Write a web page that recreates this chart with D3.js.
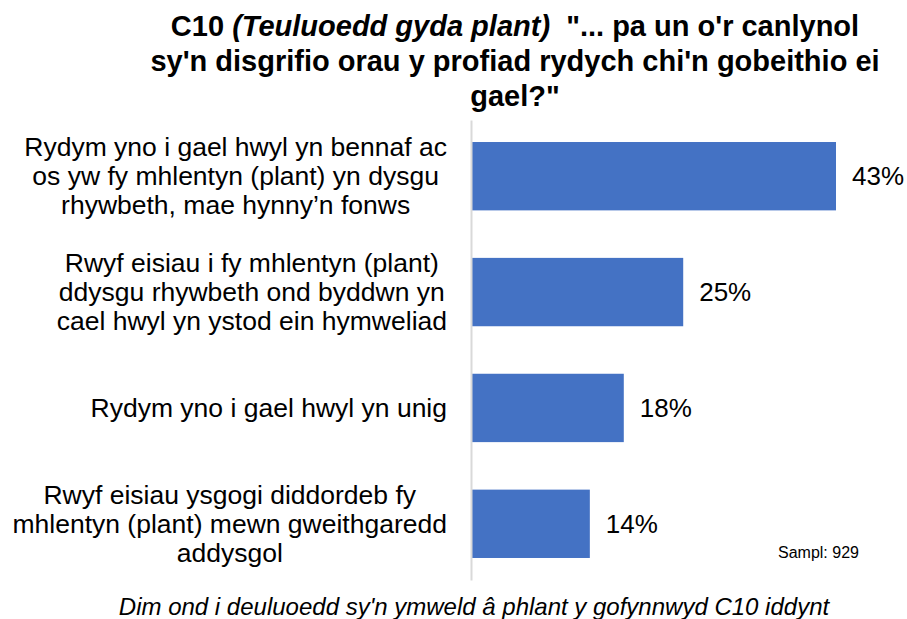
<!DOCTYPE html>
<html>
<head>
<meta charset="utf-8">
<script src="https://cdn.jsdelivr.net/npm/d3@7"></script>
<style>
  body { margin: 0; background: #fff; }
  svg { display: block; font-family: "Liberation Sans", Arial, sans-serif; }
</style>
</head>
<body>
<svg id="chart" width="907" height="619"></svg>
<script>
const categories = [
  ['Rydym yno i gael hwyl yn bennaf ac', 'os yw fy mhlentyn (plant) yn dysgu', 'rhywbeth, mae hynny\u2019n fonws'],
  ['Rwyf eisiau i fy mhlentyn (plant)', 'ddysgu rhywbeth ond byddwn yn', 'cael hwyl yn ystod ein hymweliad'],
  ['Rydym yno i gael hwyl yn unig'],
  ['Rwyf eisiau ysgogi diddordeb fy', 'mhlentyn (plant) mewn gweithgaredd', 'addysgol']
];
const values = [43, 25, 18, 14];
const titleLines = [
  [['C10 ', 'normal'], ['(Teuluoedd gyda plant)', 'italic'], ['  "... pa un o\'r canlynol', 'normal']],
  [['sy\'n disgrifio orau y profiad rydych chi\'n gobeithio ei', 'normal']],
  [['gael?"', 'normal']]
];
const sampleText = 'Sampl: 929';
const footnote = 'Dim ond i deuluoedd sy\'n ymweld \u00e2 phlant y gofynnwyd C10 iddynt';

const svg = d3.select('#chart');
const margin = {top: 120, left: 471, bottom: 39};
const height = 619;

const x = d3.scaleLinear()
  .domain([0, 43])
  .range([margin.left, 836]);

const y = d3.scaleBand()
  .domain(d3.range(categories.length))
  .range([margin.top, height - margin.bottom])
  .paddingInner(0.41)
  .paddingOuter(0.19);

// title
const title = svg.append('text')
  .attr('text-anchor', 'middle')
  .attr('font-weight', 'bold')
  .attr('font-size', 29)
  .attr('fill', '#000');

titleLines.forEach((parts, i) => {
  const line = title.append('tspan')
    .attr('x', 515)
    .attr('y', 36 + i * 35);
  parts.forEach(([txt, style]) => {
    line.append('tspan')
      .attr('font-style', style)
      .style('white-space', 'pre')
      .text(txt);
  });
});

// bars
svg.append('g')
  .attr('class', 'bars')
  .selectAll('rect')
  .data(values)
  .join('rect')
  .attr('x', x(0) + 1)
  .attr('y', (d, i) => y(i))
  .attr('width', d => x(d) - x(0) - 1)
  .attr('height', y.bandwidth())
  .attr('fill', '#4472C4');

// value labels
svg.append('g')
  .selectAll('text')
  .data(values)
  .join('text')
  .attr('x', d => x(d) + 16)
  .attr('y', (d, i) => y(i) + y.bandwidth() / 2)
  .attr('dy', '0.35em')
  .attr('font-size', 26)
  .attr('fill', '#000')
  .text(d => d + '%');

// category labels: lines centred in a block, block right-aligned
const labelRight = 447;
const lineGap = 29;
const labels = svg.append('g').attr('font-size', 26.5).attr('fill', '#000');
categories.forEach((lines, i) => {
  const g = labels.append('g');
  const cy = y(i) + y.bandwidth() / 2;
  const texts = lines.map((l, j) => g.append('text')
    .attr('text-anchor', 'middle')
    .attr('y', cy + (j - (lines.length - 1) / 2) * lineGap)
    .attr('dy', '0.35em')
    .text(l));
  const w = d3.max(texts, t => t.node().getComputedTextLength());
  texts.forEach(t => t.attr('x', labelRight - w / 2));
});

// axis line
svg.append('g')
  .attr('transform', `translate(${x(0)},0)`)
  .call(d3.axisLeft(y).tickSize(0).tickFormat(''))
  .call(g => g.select('.domain').attr('stroke', '#d9d9d9').attr('stroke-width', 2));

svg.append('text')
  .attr('x', 778)
  .attr('y', 558)
  .attr('font-size', 16)
  .attr('fill', '#000')
  .text(sampleText);

svg.append('text')
  .attr('x', 474)
  .attr('y', 615)
  .attr('text-anchor', 'middle')
  .attr('font-style', 'italic')
  .attr('font-size', 24)
  .attr('fill', '#000')
  .text(footnote);
</script>
</body>
</html>
